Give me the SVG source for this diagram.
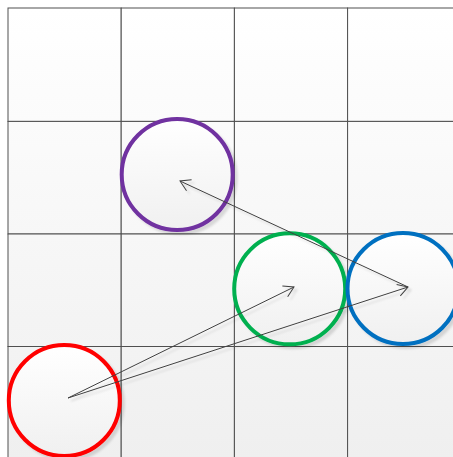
<svg xmlns="http://www.w3.org/2000/svg" width="453" height="457" viewBox="0 0 453 457">
  <defs>
    <linearGradient id="cellGrad" gradientUnits="userSpaceOnUse" x1="0" y1="8" x2="0" y2="461">
      <stop offset="0" stop-color="#ffffff"/>
      <stop offset="1" stop-color="#efefef"/>
    </linearGradient>
    <linearGradient id="circGrad" x1="0" y1="0" x2="0" y2="1">
      <stop offset="0" stop-color="#ffffff"/>
      <stop offset="1" stop-color="#f0f0f0"/>
    </linearGradient>
    <filter id="shadow" x="-20%" y="-20%" width="140%" height="140%">
      <feDropShadow dx="3" dy="3" stdDeviation="1.2" flood-color="#000000" flood-opacity="0.13"/>
    </filter>
    <marker id="arrow" markerUnits="userSpaceOnUse" markerWidth="14" markerHeight="14" viewBox="-11 -7 12 14" refX="0" refY="0" orient="auto">
      <path d="M-10,-6 L0,0 L-10,6" fill="none" stroke="#404040" stroke-width="1"/>
    </marker>
    <style>
      .cell { fill: url(#cellGrad); stroke: #505050; stroke-width: 1; }
      .node { fill: url(#circGrad); stroke-width: 4; }
      .edge { fill: none; stroke: #404040; stroke-width: 1; }
    </style>
  </defs>

  <g id="grid" filter="url(#shadow)">
    <rect class="cell" x="8" y="8" width="113.2" height="113.4"/>
    <rect class="cell" x="121.2" y="8" width="113.2" height="113.4"/>
    <rect class="cell" x="234.4" y="8" width="113.2" height="113.4"/>
    <rect class="cell" x="347.6" y="8" width="113.2" height="113.4"/>
    <rect class="cell" x="8" y="121.4" width="113.2" height="112.6"/>
    <rect class="cell" x="121.2" y="121.4" width="113.2" height="112.6"/>
    <rect class="cell" x="234.4" y="121.4" width="113.2" height="112.6"/>
    <rect class="cell" x="347.6" y="121.4" width="113.2" height="112.6"/>
    <rect class="cell" x="8" y="234" width="113.2" height="112.5"/>
    <rect class="cell" x="121.2" y="234" width="113.2" height="112.5"/>
    <rect class="cell" x="234.4" y="234" width="113.2" height="112.5"/>
    <rect class="cell" x="347.6" y="234" width="113.2" height="112.5"/>
    <rect class="cell" x="8" y="346.5" width="113.2" height="113.2"/>
    <rect class="cell" x="121.2" y="346.5" width="113.2" height="113.2"/>
    <rect class="cell" x="234.4" y="346.5" width="113.2" height="113.2"/>
    <rect class="cell" x="347.6" y="346.5" width="113.2" height="113.2"/>
  </g>

  <g id="node-red" filter="url(#shadow)">
    <circle class="node" cx="64.3" cy="400.5" r="55.5" stroke="#ff0000"/>
  </g>
  <g id="node-purple" filter="url(#shadow)">
    <circle class="node" cx="177.2" cy="174.5" r="55.5" stroke="#7030a0"/>
  </g>
  <g id="node-green" filter="url(#shadow)">
    <circle class="node" cx="289.7" cy="288.8" r="55.5" stroke="#00b050"/>
  </g>
  <g id="node-blue" filter="url(#shadow)">
    <circle class="node" cx="403" cy="288.5" r="55.5" stroke="#0070c0"/>
  </g>

  <g id="connectors" filter="url(#shadow)">
    <path class="edge" d="M68,398 L294,287" marker-end="url(#arrow)"/>
    <path class="edge" d="M68,398 L408,287" marker-end="url(#arrow)"/>
    <path class="edge" d="M408,287 L180,181" marker-end="url(#arrow)"/>
  </g>
</svg>
